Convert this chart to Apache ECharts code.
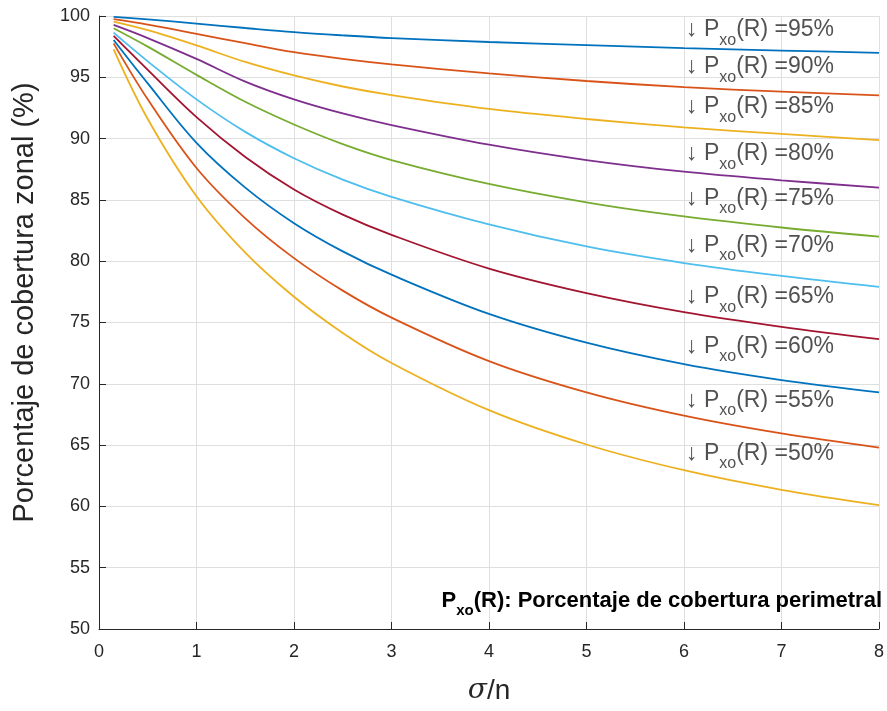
<!DOCTYPE html>
<html>
<head>
<meta charset="utf-8">
<script src="https://cdn.jsdelivr.net/npm/echarts@6/dist/echarts.min.js"></script>
<style>html,body{margin:0;padding:0;background:#fff}#c{width:887px;height:711px}</style>
</head>
<body>
<div id="c"></div>
<script>
// sigma/n sample positions
var xs = [0.15, 0.5, 1, 1.5, 2, 2.5, 3, 4, 5, 6, 7, 8];
// curves by perimeter coverage P_xo(R)
var p95 = [99.93, 99.72, 99.38, 99.02, 98.68, 98.42, 98.2, 97.88, 97.62, 97.38, 97.18, 97.0];
var p90 = [99.74, 99.3, 98.55, 97.78, 97.05, 96.5, 96.05, 95.32, 94.7, 94.2, 93.83, 93.52];
var p85 = [99.54, 98.84, 97.6, 96.25, 95.15, 94.25, 93.55, 92.42, 91.6, 90.92, 90.38, 89.88];
var p80 = [99.27, 98.2, 96.5, 94.65, 93.2, 92.05, 91.1, 89.5, 88.25, 87.3, 86.6, 86.0];
var p75 = [99.0, 97.5, 95.2, 93.0, 91.15, 89.55, 88.25, 86.3, 84.8, 83.65, 82.75, 82.0];
var p70 = [98.64, 96.3, 93.2, 90.55, 88.4, 86.65, 85.25, 83.0, 81.2, 79.85, 78.8, 77.9];
var p65 = [98.37, 95.6, 91.75, 88.5, 85.85, 83.8, 82.15, 79.4, 77.4, 75.85, 74.65, 73.65];
var p60 = [98.04, 94.5, 89.65, 86.0, 83.1, 80.8, 78.9, 75.7, 73.35, 71.6, 70.3, 69.3];
var p55 = [97.77, 93.2, 87.6, 83.5, 80.25, 77.6, 75.4, 71.85, 69.3, 67.4, 65.95, 64.8];
var p50 = [97.28, 91.6, 85.3, 80.7, 77.1, 74.15, 71.7, 67.85, 65.05, 62.95, 61.35, 60.1];
var curves = [p95, p90, p85, p80, p75, p70, p65, p60, p55, p50];
var percents = ['95', '90', '85', '80', '75', '70', '65', '60', '55', '50'];
// label anchors (sigma/n, value)
var labelX = 6;
var labelY = [98.85, 95.8, 92.55, 88.7, 85.1, 81.25, 77.05, 73.0, 68.6, 64.3];
var xTicks = [0, 1, 2, 3, 4, 5, 6, 7, 8];
var yTicks = [50, 55, 60, 65, 70, 75, 80, 85, 90, 95, 100];

var colors = ['#0072BD', '#D95319', '#EDB120', '#7E2F8E', '#77AC30', '#4DBEEE', '#A2142F', '#0072BD', '#D95319', '#EDB120'];
var FONT = '"Liberation Sans", Arial, Helvetica, sans-serif';
var TXT = '#262626';

var series = curves.map(function (c, i) {
  return {
    type: 'line',
    name: percents[i],
    data: xs.map(function (x, j) { return [x, c[j]]; }),
    showSymbol: false,
    smooth: 0.35,
    lineStyle: { color: colors[i], width: 1.8 },
    itemStyle: { color: colors[i] },
    silent: true,
    z: 3
  };
});

var rich = {
  m: { fontSize: 23, lineHeight: 24, verticalAlign: 'top', color: TXT, fontFamily: FONT },
  s: { fontSize: 16, lineHeight: 16, verticalAlign: 'top', padding: [14, 0, 0, 0], color: TXT, fontFamily: FONT }
};

series.push({
  type: 'scatter',
  symbolSize: 0,
  silent: true,
  z: 5,
  data: labelY.map(function (y) { return [labelX, y]; }),
  label: {
    show: true,
    position: [2, -12],
    align: 'left',
    verticalAlign: 'top',
    color: TXT,
    formatter: function (p) { return '{m|\u2193 P}{s|xo}{m|(R) =' + percents[p.dataIndex] + '%}'; },
    rich: rich
  }
});

var chart = echarts.init(document.getElementById('c'), null, { renderer: 'canvas' });
chart.setOption({
  animation: false,
  backgroundColor: '#ffffff',
  grid: { left: 99, right: 8, top: 16, bottom: 82, containLabel: false },
  xAxis: {
    type: 'value', min: xTicks[0], max: xTicks[xTicks.length - 1], interval: 1,
    name: '{i|\u03c3}{n|/n}', nameLocation: 'middle', nameGap: 48,
    nameTextStyle: { rich: {
      i: { fontSize: 28, fontStyle: 'italic', fontFamily: '"DejaVu Serif", "Liberation Serif", serif', color: TXT },
      n: { fontSize: 28, fontFamily: FONT, color: TXT } } },
    axisLine: { show: true, onZero: false, lineStyle: { color: TXT, width: 1 } },
    axisTick: { show: true, inside: true, length: 7, lineStyle: { color: TXT } },
    axisLabel: { fontSize: 18, color: TXT, fontFamily: FONT, margin: 14 },
    splitLine: { show: true, lineStyle: { color: '#dfdfdf', width: 1 } }
  },
  yAxis: {
    type: 'value', min: yTicks[0], max: yTicks[yTicks.length - 1], interval: 5,
    name: 'Porcentaje de cobertura zonal (%)', nameLocation: 'middle', nameGap: 60,
    nameTextStyle: { fontSize: 29, color: TXT, fontFamily: FONT, padding: [0, 0, 0, 40] },
    axisLine: { show: true, onZero: false, lineStyle: { color: TXT, width: 1 } },
    axisTick: { show: true, inside: true, length: 7, lineStyle: { color: TXT } },
    axisLabel: { fontSize: 18, color: TXT, fontFamily: FONT, margin: 9 },
    splitLine: { show: true, lineStyle: { color: '#dfdfdf', width: 1 } }
  },
  graphic: [{
    type: 'text',
    right: 5,
    top: 590,
    z: 10,
    style: {
      text: '{b|P}{bs|xo}{b|(R): Porcentaje de cobertura perimetral}',
      rich: {
        b: { fontSize: 22, fontWeight: 'bold', lineHeight: 24, verticalAlign: 'top', color: '#000', fontFamily: FONT },
        bs: { fontSize: 15, fontWeight: 'bold', lineHeight: 15, verticalAlign: 'top', padding: [13, 0, 0, 0], color: '#000', fontFamily: FONT }
      }
    }
  }],
  series: series
});
</script>
</body>
</html>
